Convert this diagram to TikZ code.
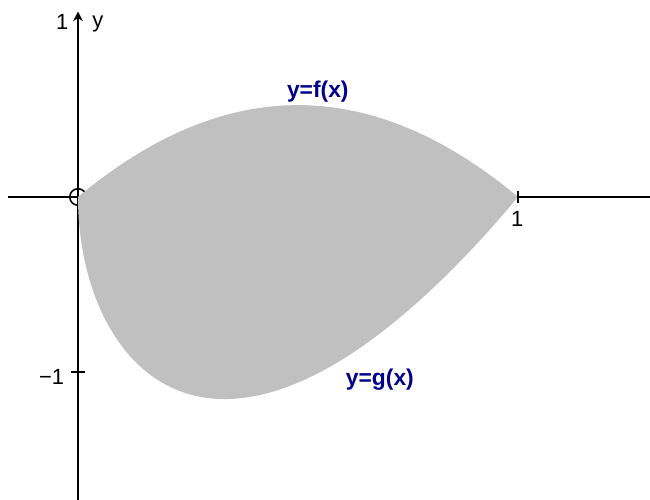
\documentclass[tikz,border=0pt]{standalone}
\usepackage{fontspec}
\setmainfont{Liberation Sans}
\usetikzlibrary{arrows.meta}

\begin{document}
\begin{tikzpicture}[x=8.8cm, y=3.5cm, >=Stealth, axis/.style={line width=1.1pt}, tick/.style={font=\fontsize{12.5}{14}\selectfont}, curvelabel/.style={font=\bfseries\fontsize{13}{15}\selectfont, text={rgb,255:red,0;green,0;blue,140}}]
\useasboundingbox (-0.1773,-1.7314) rectangle (1.3,1.1257);
\definecolor{regiongray}{RGB}{192,192,192}
% axes
\draw[axis] (-0.159,0) -- (1.3,0);
\draw[axis, -{Stealth[length=5.5pt, width=5.5pt]}] (0,-1.74) -- (0,1.06);
\draw[axis] (-0.015,-1) -- (0.015,-1);
\draw[line width=0.9pt] (0,0) circle[radius=0.165cm];
% region between f and g
\fill[regiongray] plot[domain=0:1, samples=120] (\x, {2.1*\x*(1-\x)}) -- plot[domain=1:0, samples=120] ({\x*\x}, {3*\x*(\x*\x-1)}) -- cycle;
\draw[axis] (1,-0.035) -- (1,0.035);
% labels
\node[tick] (ytop) at (-0.036,1.0) {1};
\node[tick] (yname) at (0.045,0.99) {y};
\node[tick] (yneg) at (-0.06,-1.03) {−1};
\node[tick] (xone) at (0.998,-0.126) {1};
\node[curvelabel] (flabel) at (0.545,0.6) {y=f(x)};
\node[curvelabel] (glabel) at (0.686,-1.046) {y=g(x)};
\end{tikzpicture}
\end{document}
